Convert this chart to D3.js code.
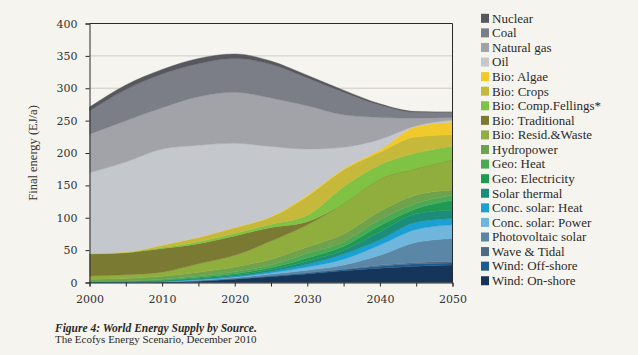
<!DOCTYPE html>
<html><head><meta charset="utf-8">
<script src="https://cdn.jsdelivr.net/npm/d3@7"></script>
<style>
html,body{margin:0;padding:0;background:#f6f4ef;}
svg{display:block;}
</style></head><body>
<svg id="c" width="638" height="355"></svg>
<script>
const years = [2000,2005,2010,2015,2020,2025,2030,2035,2040,2045,2050];
const xTicks = [2000,2010,2020,2030,2040,2050];
const yTicks = [0,50,100,150,200,250,300,350,400];

// series values (EJ/a), bottom of the stack first
const windOnshore   = [0,0.2,0.5,2,5,9,13,18,22,25,27];
const windOffshore  = [0,0.1,0.2,0.5,0.8,1,1.5,2,3,4,3];
const waveTidal     = [0,0,0.1,0.2,0.2,0.5,1,1,2,2,3];
const photovoltaic  = [0.1,0.2,0.4,0.8,1.5,2.5,3.5,6,15,31,35];
const concSolarPower= [0,0.1,0.4,1,1,2,5,9,16,20,21];
const concSolarHeat = [0,0.1,0.3,0.5,1,2,4,8,8,11,10];
const solarThermal  = [0.3,0.5,0.9,1.5,2,3,5,6,12,13,13];
const geoElectricity= [0.4,0.5,0.7,1.5,2,3,5,6,10,8,15];
const geoHeat       = [0.7,0.8,1.5,2,3,4,7,7,9,8,8];
const hydropower    = [3.5,3.5,4.5,6,7.5,9,10,12,13,13,8];
const bioResidWaste = [5,6,6.5,13,18,28,34,47,50,41,47];
const bioTraditional= [34,34,36.5,31,30,21,5,0,0,0,0];
const bioCompFell   = [0.5,0.5,1.5,3,4,5,10,26,22,24,21];
const bioCrops      = [0.5,0.5,3.5,6.5,8.5,11,29,26,19,25,17];
const bioAlgae      = [0,0,0.5,0.5,0.5,1,2,2,4,16,20];
const oil           = [124.5,139,148,142,130,108,71,33,16,1,3];
const naturalGas    = [59.5,64,64,75,79,75,67,50,34,12,4];
const coal          = [36,48,52,51,52,52,43,35,19,9,8];
const nuclear       = [6,7,7,8,7,5,4,3,2,1,0];

const seriesNames = ["Wind: On-shore","Wind: Off-shore","Wave & Tidal","Photovoltaic solar","Conc. solar: Power","Conc. solar: Heat","Solar thermal","Geo: Electricity","Geo: Heat","Hydropower","Bio: Resid.&Waste","Bio: Traditional","Bio: Comp.Fellings*","Bio: Crops","Bio: Algae","Oil","Natural gas","Coal","Nuclear"];
const seriesValues = [windOnshore,windOffshore,waveTidal,photovoltaic,concSolarPower,concSolarHeat,solarThermal,geoElectricity,geoHeat,hydropower,bioResidWaste,bioTraditional,bioCompFell,bioCrops,bioAlgae,oil,naturalGas,coal,nuclear];
const seriesColors = ["#15355a","#1f5a8c","#4f6a86","#5b87a6","#6fb5dc","#1aa0d2","#1c8c7d","#1f9a55","#4aa955","#6fa24c","#8fae3e","#7b7a32","#7fc244","#c6b83b","#f1c92b","#c4c7cc","#a1a3a9","#7b7e86","#56585d"];

const svg = d3.select("#c");
const L = 89.5, R = 452.5, T = 23.5, B = 282.5;
const x = d3.scaleLinear().domain([2000,2050]).range([L,R]);
const y = d3.scaleLinear().domain([0,400]).range([B,T]);

const table = years.map((yr,i)=>{
  const o = {year:yr};
  seriesNames.forEach((n,k)=>{ o[n] = seriesValues[k][i]; });
  return o;
});
const stacked = d3.stack().keys(seriesNames)(table);

// gridlines
svg.append("g").selectAll("line").data(yTicks.filter(v=>v>0 && v<400)).join("line")
  .attr("x1",L).attr("x2",R).attr("y1",d=>y(d)).attr("y2",d=>y(d))
  .attr("stroke","#cfccc6").attr("stroke-width",1);

const area = d3.area().curve(d3.curveMonotoneX)
  .x(d=>x(d.data.year)).y0(d=>y(d[0])).y1(d=>y(d[1]));
svg.append("g").selectAll("path").data(stacked).join("path")
  .attr("d",area).attr("fill",(d,i)=>seriesColors[i])
  .attr("stroke",(d,i)=>seriesColors[i]).attr("stroke-width",0.4);

// frame top & right
svg.append("path").attr("d",`M${L},${T}H${R}V${B}`).attr("fill","none").attr("stroke","#2a2a2a").attr("stroke-width",1);

const tickFont = "'DejaVu Serif', serif";
// y axis
const yAxis = svg.append("g").attr("transform",`translate(${L},0)`)
  .call(d3.axisLeft(y).tickValues(yTicks).tickSize(4).tickPadding(8).tickFormat(d3.format("d")));
yAxis.select(".domain").attr("stroke","#2a2a2a");
yAxis.selectAll("line").attr("stroke","#2a2a2a");
yAxis.selectAll("text").attr("font-family",tickFont).attr("font-size",11).attr("fill","#333");

// x axis
const xAxis = svg.append("g").attr("transform",`translate(0,${B})`)
  .call(d3.axisBottom(x).tickValues(years).tickSize(4).tickPadding(9).tickFormat(d=>xTicks.includes(d)?d:""));
xAxis.select(".domain").attr("stroke","#2a2a2a");
xAxis.selectAll("line").attr("stroke","#2a2a2a");
xAxis.selectAll("text").attr("font-family",tickFont).attr("font-size",11).attr("fill","#333");

// y title
svg.append("text").attr("transform","translate(37,153) rotate(-90)")
  .attr("text-anchor","middle").attr("font-family","'Liberation Serif', serif")
  .attr("font-size",12.5).attr("fill","#333").text("Final energy (EJ/a)");

// legend (top = last series)
const legendItems = seriesNames.map((n,i)=>({n,c:seriesColors[i]})).reverse();
const lg = svg.append("g").selectAll("g").data(legendItems).join("g")
  .attr("transform",(d,i)=>`translate(481,${18.3+i*14.58})`);
lg.append("rect").attr("x",0).attr("y",-4.5).attr("width",8).attr("height",9).attr("fill",d=>d.c);
lg.append("text").attr("x",11).attr("y",4.3).attr("font-family","'Liberation Serif', serif")
  .attr("font-size",13).attr("fill","#2a2a2a").text(d=>d.n);

// caption
svg.append("text").attr("x",55).attr("y",332).attr("font-family","'Liberation Serif', serif")
  .attr("font-size",11.5).attr("font-weight","bold").attr("font-style","italic").attr("fill","#2a2a2a")
  .text("Figure 4: World Energy Supply by Source.");
svg.append("text").attr("x",55).attr("y",342.5).attr("font-family","'Liberation Serif', serif")
  .attr("font-size",11).attr("fill","#2a2a2a")
  .text("The Ecofys Energy Scenario, December 2010");
</script>
</body></html>
